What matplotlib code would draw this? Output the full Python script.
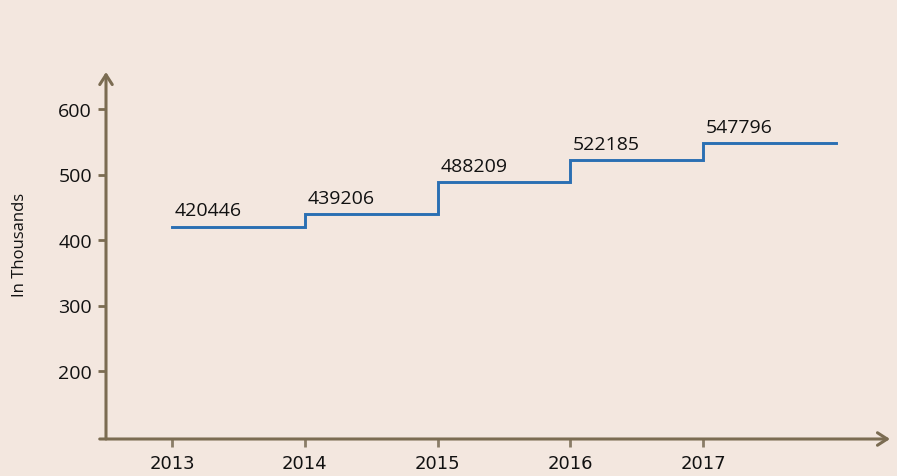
import matplotlib
matplotlib.use("Agg")
import matplotlib.pyplot as plt
import numpy as np

years = [2013, 2014, 2015, 2016, 2017]
values = [420446, 439206, 488209, 522185, 547796]
yticks = [200, 300, 400, 500, 600]

bg = "#f3e7df"
axis_col = "#7b6c52"
line_col = "#2a6fb3"

fig = plt.figure(figsize=(8.97, 4.77), dpi=100, facecolor=bg)
W, H = 897, 477
# axes box in pixels
left, right, top, bottom = 106, 890, 73, 440
ax = fig.add_axes([left / W, 1 - bottom / H, (right - left) / W, (bottom - top) / H])
ax.set_facecolor(bg)
ax.patch.set_alpha(0)

px_per_year = 132.75
ax.set_xlim(2013 - (172 - left) / px_per_year, 2013 + (right - 172) / px_per_year)
py = 0.655
ax.set_ylim(200 - (bottom - 372) / py, 200 + (372 - top) / py)

xs = years + [years[-1] + 1]
ys = [v / 1000 for v in values]
ys = ys + [ys[-1]]
ax.step(xs, ys, where="post", color=line_col, lw=2.1, solid_joinstyle="miter")

for x, v in zip(years, values):
    ax.annotate(str(v), (x, v / 1000), xytext=(2, 8), textcoords="offset points",
                ha="left", va="baseline", fontsize=14, family="Open Sans", color="#111111")

for s in ax.spines.values():
    s.set_visible(False)

ax.set_yticks(yticks)
ax.set_yticklabels([str(t) for t in yticks], family="Open Sans", fontsize=14, color="#111111")
ax.set_xticks(years)
ax.set_xticklabels([str(y) for y in years], family="DejaVu Sans", fontsize=13, color="#111111")
ax.tick_params(axis="y", direction="out", length=6, width=2, color=axis_col, pad=4)
ax.tick_params(axis="x", direction="out", length=6, width=2, color="#8a7d68", pad=5)

fig.text(20 / W, 1 - 245 / H, "In Thousands", rotation=90, ha="center", va="center",
         family="Open Sans", fontsize=12, color="#111111")

# axis arrows
ax.annotate("", xy=(0, 1.0), xytext=(0, 0), xycoords="axes fraction",
            arrowprops=dict(arrowstyle="->,head_length=0.7,head_width=0.45", color=axis_col, lw=2.2,
                            shrinkA=0, shrinkB=0))
ax.annotate("", xy=(1.0, 0), xytext=(-0.008, 0), xycoords="axes fraction",
            arrowprops=dict(arrowstyle="->,head_length=0.7,head_width=0.45", color=axis_col, lw=2.2,
                            shrinkA=0, shrinkB=0))

fig.savefig("out.png", dpi=100, facecolor=bg)
